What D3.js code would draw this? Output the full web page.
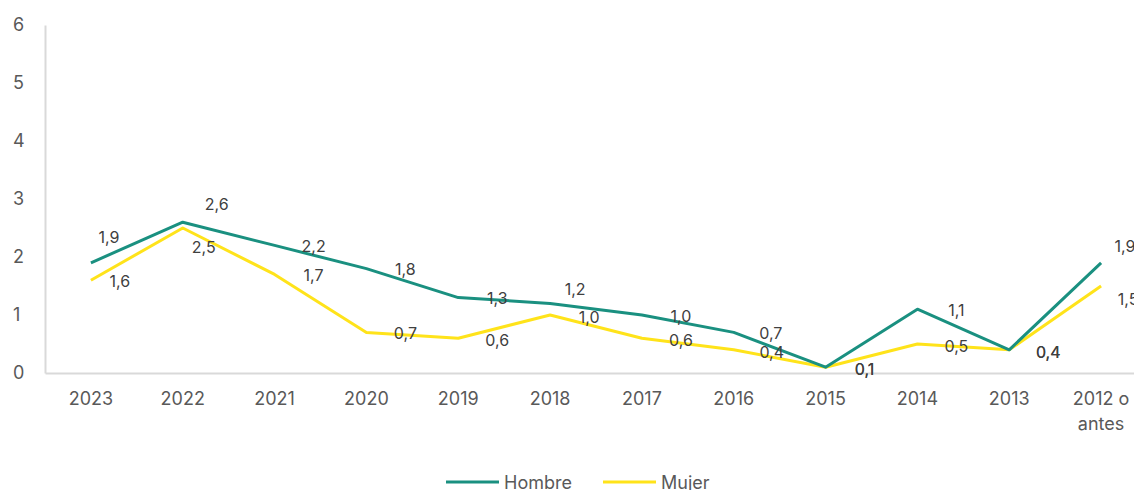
<!DOCTYPE html>
<html>
<head>
<meta charset="utf-8">
<script src="https://cdn.jsdelivr.net/npm/d3@7"></script>
<style>
  html, body { margin: 0; padding: 0; background: #fff; }
  svg { display: block; font-family: Inter, "Open Sans", sans-serif; }
</style>
</head>
<body>
<svg id="chart" width="1134" height="490"></svg>
<script>
// data
const categories = ['2023', '2022', '2021', '2020', '2019', '2018', '2017', '2016', '2015', '2014', '2013', '2012 o antes'];
const hombre = [1.9, 2.6, 2.2, 1.8, 1.3, 1.2, 1.0, 0.7, 0.1, 1.1, 0.4, 1.9];
const mujer = [1.6, 2.5, 1.7, 0.7, 0.6, 1.0, 0.6, 0.4, 0.1, 0.5, 0.4, 1.5];
const yTicks = [0, 1, 2, 3, 4, 5, 6];

// label nudges (layout only), [dx, dy] in px
const hombreLabelPos = [[18, -26], [34, -18], [39, 1], [39, 0], [39, 0], [25, -14], [39, 1], [37, 1], [39, 2], [39, 1], [39, 2], [24, -17]];
const mujerLabelPos = [[29, 1], [21, 19], [39, 1], [39, 1], [39, 2], [39, 2], [39, 2], [38, 2], [39, 2], [39, 2], [39, 2], [27, 13]];

const series = [
    {name: 'Hombre', values: hombre, color: '#1a9080', labels: hombreLabelPos},
    {name: 'Mujer', values: mujer, color: '#ffe31a', labels: mujerLabelPos}
];

const margin = {top: 25, left: 45};
const plotRight = 1147;
const plotBottom = 373;

const svg = d3.select('#chart');

const x = d3.scaleBand()
    .domain(categories)
    .range([margin.left, plotRight]);

const y = d3.scaleLinear()
    .domain([0, 6])
    .range([plotBottom, margin.top]);

const fmt = v => d3.format('.1f')(v).replace('.', ',');

// y axis
const yAxis = svg.append('g')
    .attr('transform', `translate(${margin.left},0)`)
    .call(d3.axisLeft(y).tickValues(yTicks).tickSize(0).tickPadding(20).tickFormat(d3.format('d')));
yAxis.select('.domain').attr('stroke', '#d9d9d9').attr('stroke-width', 2);
yAxis.selectAll('text').attr('fill', '#595959').attr('font-size', 18)
    .attr('font-family', 'Inter, "Open Sans", sans-serif')
    .attr('text-anchor', 'start').attr('x', -32);

// x axis
const xAxis = svg.append('g')
    .attr('transform', `translate(0,${plotBottom})`)
    .call(d3.axisBottom(x).tickSize(0).tickPadding(19));
xAxis.select('.domain').attr('stroke', '#d9d9d9').attr('stroke-width', 2);
xAxis.selectAll('text')
    .attr('fill', '#595959')
    .attr('font-size', 18)
    .attr('font-family', 'Inter, "Open Sans", sans-serif')
    .each(function (d) {
        const t = d3.select(this);
        const words = d.split(' ');
        if (words.length > 2) {
            t.text(null);
            t.append('tspan').attr('x', 0).text(words.slice(0, 2).join(' '));
            t.append('tspan').attr('x', 0).attr('dy', '1.4em').text(words.slice(2).join(' '));
        }
    });

const cx = c => x(c) + x.bandwidth() / 2;

const line = d3.line()
    .x((d, i) => cx(categories[i]))
    .y(d => y(d));

// lines
series.slice().reverse().forEach(s => {
    svg.append('path')
        .datum(s.values)
        .attr('fill', 'none')
        .attr('stroke', s.color)
        .attr('stroke-width', 3)
        .attr('stroke-linejoin', 'round')
        .attr('d', line);
});

// data labels
series.forEach(s => {
    svg.append('g').selectAll('text')
        .data(s.values)
        .join('text')
        .attr('x', (d, i) => cx(categories[i]) + s.labels[i][0])
        .attr('y', (d, i) => y(d) + s.labels[i][1])
        .attr('text-anchor', 'middle')
        .attr('dominant-baseline', 'central')
        .attr('font-size', 16)
        .attr('fill', '#404040')
        .text(d => fmt(d));
});

// legend
const legend = svg.append('g');
const legendItems = [{x: 446}, {x: 603}];
series.forEach((s, i) => {
    const lx = legendItems[i].x;
    legend.append('line')
        .attr('x1', lx).attr('x2', lx + 53)
        .attr('y1', 482).attr('y2', 482)
        .attr('stroke', s.color).attr('stroke-width', 3);
    legend.append('text')
        .attr('x', lx + 58).attr('y', 482)
        .attr('dominant-baseline', 'central')
        .attr('font-size', 18)
        .attr('fill', '#595959')
        .text(s.name);
});
</script>
</body>
</html>
